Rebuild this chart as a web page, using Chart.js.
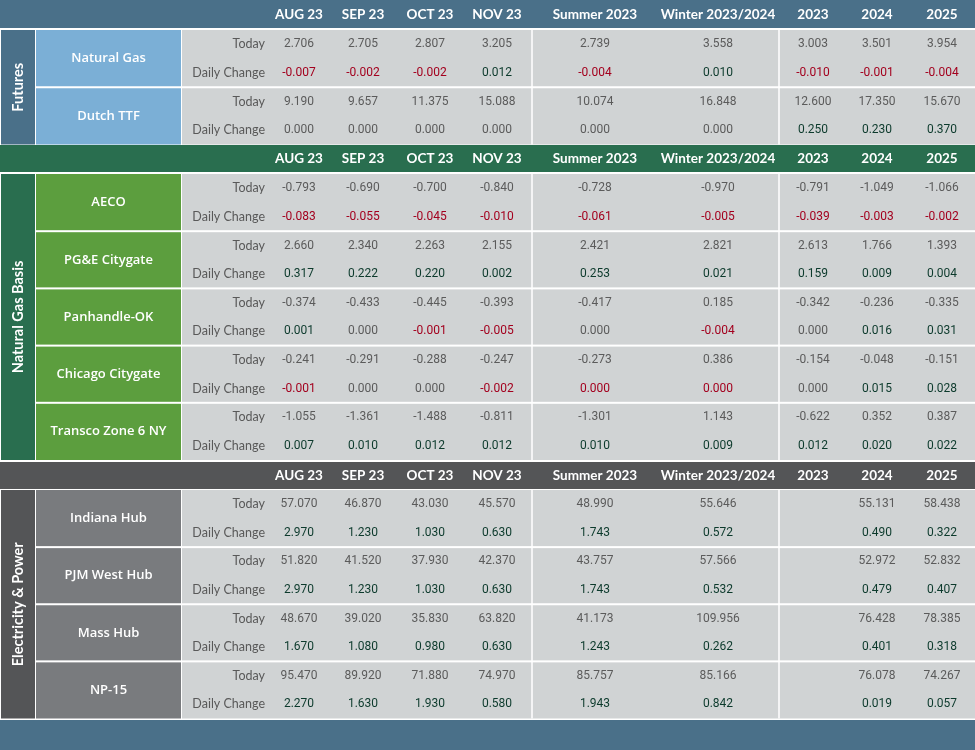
<!DOCTYPE html>
<html><head><meta charset="utf-8">
<script src="https://cdn.jsdelivr.net/npm/chart.js@4/dist/chart.umd.min.js"></script>
<style>html,body{margin:0;padding:0;background:#fff}#wrap{width:975px;height:750px;position:relative}</style>
</head><body><div id="wrap"><canvas id="c"></canvas></div>
<script>
// ---------- DATA ----------
const columns = ["AUG 23","SEP 23","OCT 23","NOV 23","Summer 2023","Winter 2023/2024","2023","2024","2025"];
const rowKinds = ["Today","Daily Change"];
const groups = ["Futures","Natural Gas Basis","Electricity & Power"];

const futuresHubs = ["Natural Gas","Dutch TTF"];
const natGasToday  = [2.706,2.705,2.807,3.205,2.739,3.558,3.003,3.501,3.954];
const natGasChange = [-0.007,-0.002,-0.002,0.012,-0.004,0.010,-0.010,-0.001,-0.004];
const ttfToday     = [9.190,9.657,11.375,15.088,10.074,16.848,12.600,17.350,15.670];
const ttfChange    = [0.000,0.000,0.000,0.000,0.000,0.000,0.250,0.230,0.370];

const basisHubs = ["AECO","PG&E Citygate","Panhandle-OK","Chicago Citygate","Transco Zone 6 NY"];
const aecoToday    = [-0.793,-0.690,-0.700,-0.840,-0.728,-0.970,-0.791,-1.049,-1.066];
const aecoChange   = [-0.083,-0.055,-0.045,-0.010,-0.061,-0.005,-0.039,-0.003,-0.002];
const pgeToday     = [2.660,2.340,2.263,2.155,2.421,2.821,2.613,1.766,1.393];
const pgeChange    = [0.317,0.222,0.220,0.002,0.253,0.021,0.159,0.009,0.004];
const panToday     = [-0.374,-0.433,-0.445,-0.393,-0.417,0.185,-0.342,-0.236,-0.335];
const panChange    = [0.001,0.000,-0.001,-0.005,0.000,-0.004,0.000,0.016,0.031];
const chiToday     = [-0.241,-0.291,-0.288,-0.247,-0.273,0.386,-0.154,-0.048,-0.151];
const chiChange    = [-0.001,0.000,0.000,-0.002,-0.0003,-0.0002,0.000,0.015,0.028];
const transToday   = [-1.055,-1.361,-1.488,-0.811,-1.301,1.143,-0.622,0.352,0.387];
const transChange  = [0.007,0.010,0.012,0.012,0.010,0.009,0.012,0.020,0.022];

const powerHubs = ["Indiana Hub","PJM West Hub","Mass Hub","NP-15"];
const indToday     = [57.070,46.870,43.030,45.570,48.990,55.646,null,55.131,58.438];
const indChange    = [2.970,1.230,1.030,0.630,1.743,0.572,null,0.490,0.322];
const pjmToday     = [51.820,41.520,37.930,42.370,43.757,57.566,null,52.972,52.832];
const pjmChange    = [2.970,1.230,1.030,0.630,1.743,0.532,null,0.479,0.407];
const massToday    = [48.670,39.020,35.830,63.820,41.173,109.956,null,76.428,78.385];
const massChange   = [1.670,1.080,0.980,0.630,1.243,0.262,null,0.401,0.318];
const npToday      = [95.470,89.920,71.880,74.970,85.757,85.166,null,76.078,74.267];
const npChange     = [2.270,1.630,1.930,0.580,1.943,0.842,null,0.019,0.057];

// ---------- STRUCTURE & STYLE ----------
const sections = [
  {group: groups[0], hubs: futuresHubs, today:[natGasToday, ttfToday], change:[natGasChange, ttfChange],
   band:"#4a7089", groupBg:"#4a7089", nameBg:"#7bafd6"},
  {group: groups[1], hubs: basisHubs, today:[aecoToday,pgeToday,panToday,chiToday,transToday],
   change:[aecoChange,pgeChange,panChange,chiChange,transChange],
   band:"#296e4f", groupBg:"#296e4f", nameBg:"#5c9e3e"},
  {group: groups[2], hubs: powerHubs, today:[indToday,pjmToday,massToday,npToday],
   change:[indChange,pjmChange,massChange,npChange],
   band:"#545557", groupBg:"#545557", nameBg:"#797b7e"}
];
const LAYOUT = {
  colCenters:[299,363,430,497,595,718,813,877,942],
  groupX:[1,35], nameX:[36,181], dataX:[182,975], vSeps:[532,779],
  labelRight:265,
  bands:[[0,28],[145,172],[462,489]],
  blocks:[[30,144.5],[174,460],[490,718.5]],
  bottom:[720,750]
};
const COL = {bg:"#d0d3d4", label:"#595959", today:"#5b5b5b", pos:"#0c3a2c", neg:"#a3001e", zero:"#5b5b5b", white:"#ffffff"};
const FONT_HEAD = "bold 13.5px Lato";
const FONT_NAME = "600 13px 'Open Sans'";
const FONT_GROUP = "bold 14.5px Lato";
const FONT_LABEL = "12.5px Lato";
const FONT_NUM = "12px Roboto";

function fmt(v){ if(v===null) return ""; const a=Math.abs(v).toFixed(3); return (v<0 && a!=="0.000") ? "-"+a : a; }

const tablePlugin = {
  id:"tablePlugin",
  afterDraw(chart){
    const ctx = chart.ctx, xs = chart.scales.x, ys = chart.scales.y;
    const X = v => xs.getPixelForValue(v), Y = v => ys.getPixelForValue(v);
    const rect = (x0,y0,x1,y1,c) => { ctx.fillStyle=c; ctx.fillRect(X(x0),Y(y0),X(x1)-X(x0),Y(y1)-Y(y0)); };
    const text = (t,x,y,font,color,align) => { ctx.font=font; ctx.fillStyle=color; ctx.textAlign=align||"center"; ctx.textBaseline="middle"; ctx.fillText(t,X(x),Y(y)); };
    ctx.save();
    rect(0,0,975,750,COL.white);
    sections.forEach((s,si)=>{
      const [b0,b1] = LAYOUT.bands[si];
      rect(0,b0,975,b1,s.band);
      columns.forEach((c,ci)=> text(c, LAYOUT.colCenters[ci], (b0+b1)/2+0.5, FONT_HEAD, COL.white));
      const [t0,t1] = LAYOUT.blocks[si];
      rect(LAYOUT.groupX[0],t0,LAYOUT.groupX[1],t1,s.groupBg);
      rect(LAYOUT.dataX[0],t0,LAYOUT.dataX[1],t1,COL.bg);
      const h = (t1-t0)/s.hubs.length;
      s.hubs.forEach((hub,hi)=>{
        const top = t0+hi*h, bot = top+h;
        rect(LAYOUT.nameX[0],top,LAYOUT.nameX[1],bot,s.nameBg);
        if(hi>0) rect(LAYOUT.nameX[0],top-1,975,top+1,COL.white);
        text(hub,(LAYOUT.nameX[0]+LAYOUT.nameX[1])/2,(top+bot)/2,FONT_NAME,COL.white);
        const yT = top+h*0.25, yC = top+h*0.75;
        text(rowKinds[0],LAYOUT.labelRight,yT,FONT_LABEL,COL.label,"right");
        text(rowKinds[1],LAYOUT.labelRight,yC,FONT_LABEL,COL.label,"right");
        columns.forEach((c,ci)=>{
          const tv = s.today[hi][ci], cv = s.change[hi][ci];
          if(tv!==null) text(fmt(tv),LAYOUT.colCenters[ci],yT,FONT_NUM,COL.today);
          if(cv!==null){
            const col = cv<0 ? COL.neg : (cv>0 ? COL.pos : COL.zero);
            text(fmt(cv),LAYOUT.colCenters[ci],yC,FONT_NUM,col);
          }
        });
      });
      LAYOUT.vSeps.forEach(vx=> rect(vx-0.75,t0,vx+0.75,t1,COL.white));
      ctx.save();
      ctx.translate(X((LAYOUT.groupX[0]+LAYOUT.groupX[1])/2+0.5), Y((t0+t1)/2));
      ctx.rotate(-Math.PI/2);
      ctx.font=FONT_GROUP; ctx.fillStyle=COL.white; ctx.textAlign="center"; ctx.textBaseline="middle";
      ctx.fillText(s.group,0,0);
      ctx.restore();
    });
    rect(0,LAYOUT.bottom[0],975,LAYOUT.bottom[1],sections[0].band);
    ctx.restore();
  }
};

new Chart(document.getElementById("c"), {
  type:"scatter",
  data:{datasets:[{data:[], pointRadius:0}]},
  options:{
    responsive:true, maintainAspectRatio:false, animation:false,
    layout:{padding:0},
    plugins:{legend:{display:false}, tooltip:{enabled:false}},
    scales:{
      x:{type:"linear", min:0, max:975, display:false},
      y:{type:"linear", min:0, max:750, reverse:true, display:false}
    }
  },
  plugins:[tablePlugin]
});
</script></body></html>
